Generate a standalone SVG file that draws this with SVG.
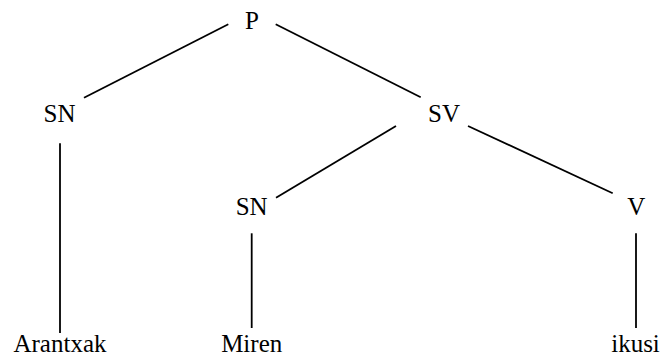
<svg xmlns="http://www.w3.org/2000/svg" width="661" height="358" viewBox="0 0 661 358">
<style>
.t{font-family:'Liberation Serif','Times New Roman',Times,'DejaVu Serif',serif;font-size:25px;fill:#000;text-anchor:middle}
.c{stroke:#000;stroke-width:1.8}
</style>
<rect width="661" height="358" fill="#fff"/>
<g id="connectors">
<line class="c" x1="228.3" y1="24.3" x2="84" y2="97.7"/>
<line class="c" x1="275.7" y1="24.3" x2="420.7" y2="97.3"/>
<line class="c" x1="60" y1="143.3" x2="60" y2="333"/>
<line class="c" x1="396" y1="126" x2="276" y2="197.7"/>
<line class="c" x1="468" y1="126" x2="612.7" y2="193.3"/>
<line class="c" x1="251.7" y1="233.3" x2="251.7" y2="328"/>
<line class="c" x1="636" y1="233.3" x2="636" y2="328"/>
</g>
<g id="node-P"><text class="t" x="252" y="29.3">P</text></g>
<g id="node-SN1"><text class="t" x="59.5" y="121.7">SN</text></g>
<g id="node-SV"><text class="t" x="444" y="121.7">SV</text></g>
<g id="node-SN2"><text class="t" x="251.7" y="215">SN</text></g>
<g id="node-V"><text class="t" x="636.3" y="215">V</text></g>
<g id="node-Arantxak"><text class="t" x="60" y="352">Arantxak</text></g>
<g id="node-Miren"><text class="t" x="251.7" y="352">Miren</text></g>
<g id="node-ikusi"><text class="t" x="635.5" y="352">ikusi</text></g>
</svg>
